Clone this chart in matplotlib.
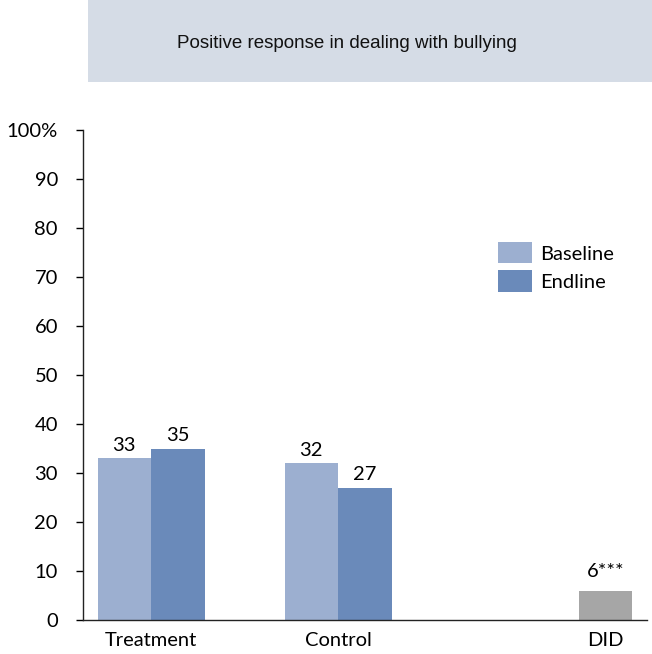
import matplotlib
matplotlib.use("Agg")
import matplotlib.pyplot as plt
from matplotlib.patches import Rectangle, Patch

categories = ["Treatment", "Control", "DID"]
baseline = [33, 32]
endline = [35, 27]
did_value = 6
did_label = "6***"
y_ticks = [0, 10, 20, 30, 40, 50, 60, 70, 80, 90, 100]
y_tick_labels = ["0", "10", "20", "30", "40", "50", "60", "70", "80", "90", "100%"]
title = "Positive response in dealing with bullying"

c_base = "#9cafd0"
c_end = "#6a8aba"
c_did = "#a6a6a6"
c_box = "#d5dce6"

W, H = 652, 654
fig = plt.figure(figsize=(W / 100, H / 100), dpi=100)
label_font = "Lato"
fs = 14.5

# title banner
fig.patches.append(Rectangle((88 / W, 1 - 82 / H), (W - 88) / W, 82 / H,
                             transform=fig.transFigure, facecolor=c_box,
                             edgecolor="none", zorder=0))
fig.text(347 / W, 1 - 43 / H, title, ha="center", va="center",
         fontsize=13.5, family="Liberation Sans", color="#111111")

ax = fig.add_axes([83 / W, 1 - 620 / H, (647 - 83) / W, (620 - 130) / H])

pos = [0, 1, 2.43]
bw = 0.286
b1 = ax.bar([p - bw / 2 for p in pos[:2]], baseline, bw, color=c_base, label="Baseline")
b2 = ax.bar([p + bw / 2 for p in pos[:2]], endline, bw, color=c_end, label="Endline")
b3 = ax.bar([pos[2]], [did_value], bw, color=c_did)

for bars, vals in ((b1, baseline), (b2, endline)):
    for r, v in zip(bars, vals):
        ax.text(r.get_x() + r.get_width() / 2, v + 0.9, f"{v}", ha="center",
                va="bottom", fontsize=fs, family=label_font, color="#000000")
r = b3[0]
ax.text(r.get_x() + r.get_width() / 2, did_value + 2.2, did_label, ha="center",
        va="bottom", fontsize=fs, family=label_font, color="#000000")

ax.set_xlim(-0.364, 2.652)
ax.set_ylim(0, 100)
ax.set_yticks(y_ticks)
ax.set_yticklabels(y_tick_labels, family=label_font, fontsize=fs, color="#000000")
ax.set_xticks(pos)
ax.set_xticklabels(categories, family=label_font, fontsize=fs, color="#000000")
ax.tick_params(axis="x", length=0, pad=9)
ax.tick_params(axis="y", length=5, width=1, direction="out", pad=13)
for s in ("top", "right"):
    ax.spines[s].set_visible(False)
for s in ("left", "bottom"):
    ax.spines[s].set_linewidth(1)
    ax.spines[s].set_color("#222222")

handles = [Patch(facecolor=c_base, edgecolor="none"), Patch(facecolor=c_end, edgecolor="none")]
fig.legend(handles, ["Baseline", "Endline"], loc="upper left",
           bbox_to_anchor=(480 / W, 1 - 224 / H), frameon=False,
           prop={"family": label_font, "size": fs}, handlelength=1.7,
           handleheight=1.25, handletextpad=0.4, labelspacing=0.35)

fig.savefig("out.png", dpi=100)
